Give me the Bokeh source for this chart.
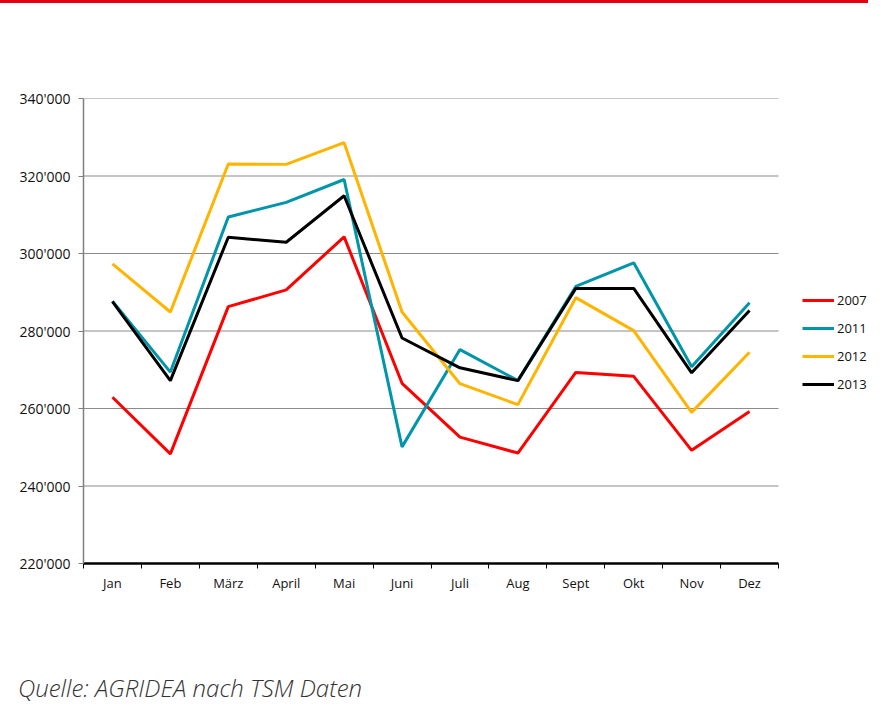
from bokeh.plotting import figure
from bokeh.models import Range1d, FixedTicker, Legend, LegendItem, Div, Column
from bokeh.embed import file_html
from bokeh.resources import INLINE

months = ["Jan", "Feb", "März", "April", "Mai", "Juni", "Juli", "Aug", "Sept", "Okt", "Nov", "Dez"]
y2007 = [262900, 248300, 286300, 290600, 304300, 266500, 252600, 248500, 269300, 268300, 249200, 259200]
y2011 = [287700, 269400, 309400, 313200, 319100, 250100, 275200, 267200, 291500, 297600, 270800, 287300]
y2012 = [297300, 284900, 323100, 323000, 328600, 284900, 266400, 261000, 288600, 280100, 259000, 274500]
y2013 = [287600, 267200, 304200, 302900, 314900, 278200, 270500, 267200, 291000, 291000, 269200, 285300]
series_names = ["2007", "2011", "2012", "2013"]
series_colors = ["#ff0000", "#0095a8", "#ffb400", "#000000"]
y_ticks = [220000, 240000, 260000, 280000, 300000, 320000, 340000]
y_tick_labels = ["220'000", "240'000", "260'000", "280'000", "300'000", "320'000", "340'000"]
source_text = "Quelle: AGRIDEA nach TSM Daten"

n = len(months)
xs = [i + 0.5 for i in range(n)]

W = 868
BAR_H = 3
FIG_H = 669
SRC_H = 32
# frame (in page coords of reference)
FL, FT, FR, FB = 83, 98, 778, 563

frame_w = W - FL
x_end = n * frame_w / (FR - FL)

p = figure(width=W, height=FIG_H, output_backend="svg", toolbar_location=None,
           x_range=Range1d(0, x_end), y_range=Range1d(220000, 340000),
           min_border_left=FL, min_border_right=0, min_border_top=FT - BAR_H,
           min_border_bottom=BAR_H + FIG_H - FB, margin=0)
p.outline_line_color = None
p.background_fill_color = "white"

# x axis
p.xaxis.bounds = (0, n)
p.xaxis.ticker = FixedTicker(ticks=xs, minor_ticks=list(range(n + 1)))
p.xaxis.major_label_overrides = {x: m for x, m in zip(xs, months)}
p.xaxis.major_tick_line_color = None
p.xaxis.major_tick_in = 0
p.xaxis.major_tick_out = 0
p.xaxis.minor_tick_in = 0
p.xaxis.minor_tick_out = 5
p.xaxis.minor_tick_line_color = "black"
p.xaxis.minor_tick_line_width = 1
p.xaxis.axis_line_color = "black"
p.xaxis.axis_line_width = 2.5
p.xaxis.major_label_standoff = 5
p.xaxis.major_label_text_font = "Open Sans"
p.xaxis.major_label_text_font_size = "13px"
p.xaxis.major_label_text_color = "#111111"

# y axis
p.yaxis.ticker = FixedTicker(ticks=y_ticks)
p.yaxis.major_label_overrides = {t: l for t, l in zip(y_ticks, y_tick_labels)}
p.yaxis.minor_tick_line_color = None
p.yaxis.major_tick_in = 0
p.yaxis.major_tick_out = 5
p.yaxis.major_tick_line_color = "#808080"
p.yaxis.axis_line_color = "#808080"
p.yaxis.axis_line_width = 1.5
p.yaxis.major_label_standoff = 8
p.yaxis.major_label_text_font = "Open Sans"
p.yaxis.major_label_text_font_size = "14px"
p.yaxis.major_label_text_color = "#111111"

# horizontal gridlines limited to the category extent
p.xgrid.grid_line_color = None
p.ygrid.grid_line_color = None
grid_y = y_ticks[1:]
p.segment(x0=[0] * len(grid_y), y0=grid_y, x1=[n] * len(grid_y), y1=grid_y,
          line_color="#8c8c8c", line_width=1.2)

items = []
for name, vals, col in zip(series_names, [y2007, y2011, y2012, y2013], series_colors):
    r = p.line(xs, vals, line_color=col, line_width=3)
    items.append(LegendItem(label=name, renderers=[r]))

legend = Legend(items=items, location=(802 - FL, FB - 398), orientation="vertical",
                glyph_width=32, glyph_height=28, label_height=28, spacing=0,
                padding=0, margin=0, label_standoff=3,
                border_line_color=None, background_fill_alpha=0,
                label_text_font="Open Sans", label_text_font_size="13px",
                label_text_color="#111111")
p.add_layout(legend, "center")

bar = Div(text="", width=W, height=BAR_H, margin=0,
          styles={"background-color": "#e3000f"})
src = Div(text=source_text, width=W, height=SRC_H, margin=0,
          styles={"font-family": "Open Sans", "font-style": "italic", "font-size": "24px",
                  "font-weight": "300", "line-height": "32px", "color": "#333333",
                  "padding-left": "18px"})

layout = Column(children=[bar, p, src], spacing=0)

open("out.html", "w").write(file_html(layout, INLINE))
